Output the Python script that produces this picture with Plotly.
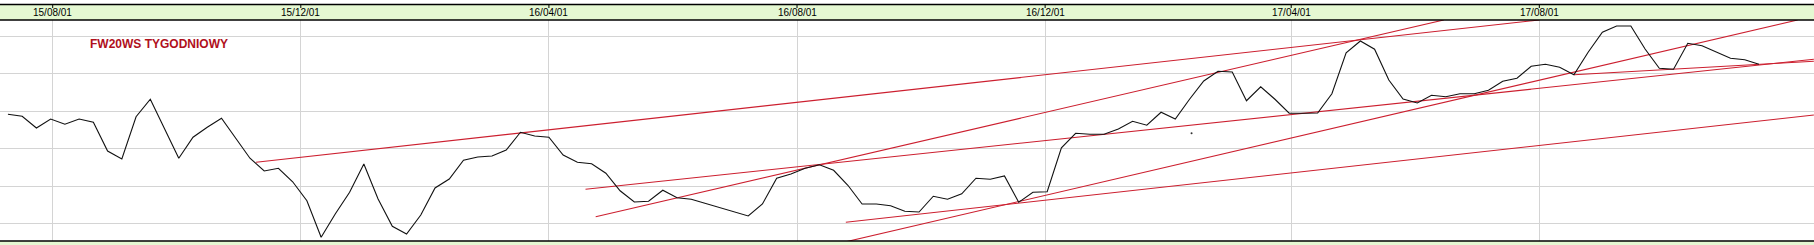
import plotly.graph_objects as go
import pandas as pd

# ---- data -------------------------------------------------------------
title_text = "FW20WS TYGODNIOWY"

first_week = "2015-07-10"
n_weeks = 124
week_dates = pd.date_range(first_week, periods=n_weeks, freq="7D")

closes = [
    2187, 2179, 2132, 2168, 2147, 2168, 2155, 2040, 2008, 2177,
    2247, 2128, 2011, 2095, 2135, 2171, 2089, 2011, 1960, 1971,
    1917, 1841, 1695, 1789, 1875, 1988, 1848, 1739, 1708, 1784,
    1892, 1928, 2003, 2016, 2020, 2044, 2115, 2100, 2095, 2024,
    1995, 1989, 1951, 1881, 1836, 1839, 1883, 1853, 1847, 1830,
    1814, 1797, 1780, 1828, 1931, 1948, 1971, 1985, 1963, 1903,
    1828, 1828, 1821, 1799, 1796, 1859, 1847, 1869, 1931, 1927,
    1940, 1835, 1875, 1877, 2053, 2111, 2107, 2107, 2128, 2159,
    2143, 2195, 2168, 2247, 2320, 2359, 2356, 2241, 2297, 2247,
    2191, 2191, 2192, 2269, 2433, 2480, 2447, 2324, 2248, 2232,
    2263, 2257, 2269, 2269, 2283, 2319, 2331, 2379, 2387, 2375,
    2345, 2435, 2515, 2540, 2540, 2448, 2371, 2367, 2471, 2461,
    2435, 2411, 2405, 2387,
]

# trend lines (start date, start value, end date, end value)
trend_start_dates = ["2015-11-09", "2016-04-24", "2016-04-19", "2016-08-25", "2016-08-24", "2017-08-18"]
trend_start_vals = [1995, 1777, 1887, 1755, 1675, 2345]
trend_end_dates = ["2017-08-01", "2017-06-15", "2017-12-14", "2017-12-14", "2017-12-06", "2017-12-14"]
trend_end_vals = [2564, 2564, 2407, 2184, 2564, 2399]

# stray dot on the chart
dot_date = ["2017-02-11"]
dot_val = [2111]

tick_dates = ["2015-08-01", "2015-12-01", "2016-04-01", "2016-08-01",
              "2016-12-01", "2017-04-01", "2017-08-01"]
tick_labels = ["15/08/01", "15/12/01", "16/04/01", "16/08/01",
               "16/12/01", "17/04/01", "17/08/01"]
grid_levels = [1750, 1900, 2050, 2200, 2350, 2500]

x_range = ["2015-07-06 02:10", "2017-12-14 01:30"]
y_range = [1680, 2564]

# ---- styles ------------------------------------------------------------
FONT = "Liberation Sans, Arial, sans-serif"
GREEN = "#e5f8d2"
RED = "#cc1f2f"
GRID = "#d4d4d4"

W, H = 1814, 245
M_T, M_B = 20, 4
PH = H - M_T - M_B


def py(pix_from_top):
    """paper y for a pixel row measured from the top of the page"""
    return (H - M_B - pix_from_top) / PH


fig = go.Figure()

for sd, sv, ed, ev in zip(trend_start_dates, trend_start_vals, trend_end_dates, trend_end_vals):
    fig.add_trace(go.Scatter(x=[sd, ed], y=[sv, ev], mode="lines",
                             line=dict(color=RED, width=1.1), hoverinfo="skip",
                             showlegend=False))

fig.add_trace(go.Scatter(x=week_dates, y=closes, mode="lines",
                         line=dict(color="#111111", width=1.1), showlegend=False))

fig.add_trace(go.Scatter(x=dot_date, y=dot_val, mode="markers",
                         marker=dict(color="#333333", size=2), showlegend=False))

shapes = []
# header band
shapes.append(dict(type="rect", xref="paper", yref="paper", x0=0, x1=1,
                   y0=py(20), y1=py(4.5), fillcolor=GREEN, line=dict(width=0), layer="below"))
shapes.append(dict(type="line", xref="paper", yref="paper", x0=0, x1=1,
                   y0=py(4.5), y1=py(4.5), line=dict(color="black", width=1.5)))
shapes.append(dict(type="line", xref="paper", yref="paper", x0=0, x1=1,
                   y0=py(20), y1=py(20), line=dict(color="black", width=1.5)))
# bottom band
shapes.append(dict(type="rect", xref="paper", yref="paper", x0=0, x1=1,
                   y0=py(246), y1=py(241), fillcolor=GREEN, line=dict(width=0), layer="below"))
shapes.append(dict(type="line", xref="paper", yref="paper", x0=0, x1=1,
                   y0=py(241), y1=py(241), line=dict(color="black", width=1.5)))
# tick marks in header
for d in tick_dates:
    shapes.append(dict(type="line", xref="x", yref="paper", x0=d, x1=d,
                       y0=py(4.5), y1=py(8), line=dict(color="black", width=1)))

annotations = []
for d, lab in zip(tick_dates, tick_labels):
    annotations.append(dict(x=d, y=py(12.5), xref="x", yref="paper", text=lab,
                            showarrow=False, xanchor="center", yanchor="middle",
                            font=dict(family=FONT, size=10, color="black")))
annotations.append(dict(x=88 / W, y=py(44), xref="paper", yref="paper", text=title_text,
                        showarrow=False, xanchor="left", yanchor="middle",
                        font=dict(family=FONT, size=12, color="#b0101c", weight="bold")))

fig.update_layout(
    width=W, height=H,
    margin=dict(l=0, r=0, t=M_T, b=M_B, pad=0),
    paper_bgcolor="white", plot_bgcolor="white",
    shapes=shapes, annotations=annotations,
    showlegend=False,
    xaxis=dict(type="date", range=x_range, tickvals=tick_dates, showticklabels=False,
               showgrid=True, gridcolor=GRID, gridwidth=1, zeroline=False, showline=False,
               ticks=""),
    yaxis=dict(range=y_range, tickvals=grid_levels, showticklabels=False,
               showgrid=True, gridcolor=GRID, gridwidth=1, zeroline=False, showline=False,
               ticks=""),
)

fig.write_html("out.html")
